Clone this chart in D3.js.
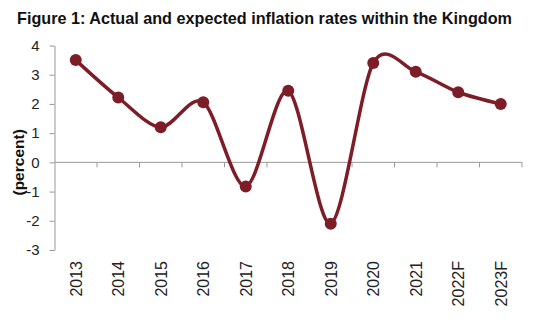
<!DOCTYPE html>
<html>
<head>
<meta charset="utf-8">
<script src="https://cdn.jsdelivr.net/npm/d3@7"></script>
<style>
  body { margin: 0; background: #fff; }
  svg { display: block; font-family: Arial, "Liberation Sans", sans-serif; }
</style>
</head>
<body>
<div id="root"></div>
<script>
const years = ['2013', '2014', '2015', '2016', '2017', '2018', '2019', '2020', '2021', '2022F', '2023F'];
const inflation = [3.5, 2.22, 1.2, 2.06, -0.83, 2.45, -2.1, 3.4, 3.1, 2.4, 2.0];
const yTicks = [-3, -2, -1, 0, 1, 2, 3, 4];

const width = 537;
const height = 324;
const margin = { top: 45.5, right: 15, bottom: 74, left: 54.5 };
const lineColor = '#7d1d27';

const svg = d3.select('#root')
  .append('svg')
  .attr('width', width)
  .attr('height', height);

svg.append('text')
  .attr('x', 17)
  .attr('y', 24)
  .attr('font-size', '16.2px')
  .attr('font-weight', 'bold')
  .attr('fill', '#111')
  .text('Figure 1: Actual and expected inflation rates within the Kingdom');

const x = d3.scaleBand()
  .domain(years)
  .range([margin.left, width - margin.right]);

const y = d3.scaleLinear()
  .domain([-3, 4])
  .range([height - margin.bottom, margin.top]);

// y axis
const yAxis = svg.append('g')
  .attr('transform', `translate(${ margin.left },0)`)
  .call(d3.axisLeft(y).tickValues(yTicks).tickFormat((d) => String(d))
    .tickSize(5).tickPadding(10).tickSizeOuter(0));
yAxis.select('.domain').attr('stroke', '#999');
yAxis.selectAll('.tick line').attr('stroke', '#999');
yAxis.selectAll('.tick text').attr('font-size', '15px').attr('fill', '#222');

// x axis along zero, ticks between categories
const xAxisG = svg.append('g')
  .attr('transform', `translate(0,${ y(0) })`);
xAxisG.append('line')
  .attr('x1', margin.left)
  .attr('x2', width - margin.right)
  .attr('stroke', '#999');
xAxisG.selectAll('.xtick')
  .data(years)
  .enter()
  .append('line')
  .attr('x1', (d) => x(d) + x.bandwidth())
  .attr('x2', (d) => x(d) + x.bandwidth())
  .attr('y1', 0)
  .attr('y2', 5)
  .attr('stroke', '#999');

// category labels at bottom, rotated
svg.selectAll('.xlabel')
  .data(years)
  .enter()
  .append('text')
  .attr('transform', (d) => `translate(${ x(d) + x.bandwidth() / 2 + 6 },${ height - margin.bottom + 11 }) rotate(-90)`)
  .attr('text-anchor', 'end')
  .attr('font-size', '16px')
  .attr('fill', '#222')
  .text((d) => d);

svg.append('text')
  .attr('transform', `translate(24,${ y(0) }) rotate(-90)`)
  .attr('text-anchor', 'middle')
  .attr('font-size', '15.5px')
  .attr('font-weight', 'bold')
  .attr('fill', '#111')
  .text('(percent)');

const line = d3.line()
  .x((d, i) => x(years[i]) + x.bandwidth() / 2)
  .y((d) => y(d))
  .curve(d3.curveCardinal.tension(0.1));

svg.append('path')
  .datum(inflation)
  .attr('d', line)
  .attr('fill', 'none')
  .attr('stroke', lineColor)
  .attr('stroke-width', 3.5);

svg.selectAll('.dot')
  .data(inflation)
  .enter()
  .append('circle')
  .attr('cx', (d, i) => x(years[i]) + x.bandwidth() / 2)
  .attr('cy', (d) => y(d))
  .attr('r', 6)
  .attr('fill', lineColor);
</script>
</body>
</html>
